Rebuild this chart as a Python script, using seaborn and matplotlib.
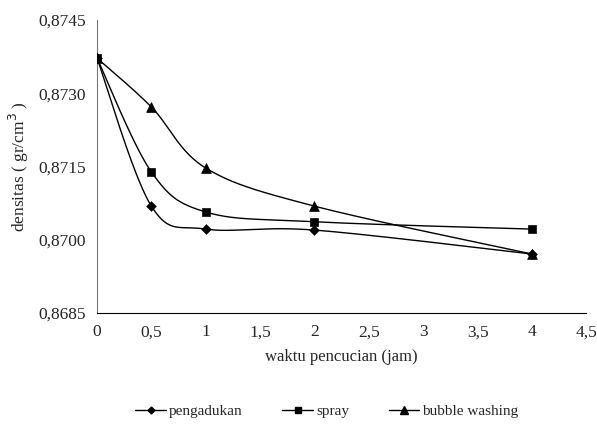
import numpy as np
import pandas as pd
import matplotlib
matplotlib.use("Agg")
import matplotlib.pyplot as plt
import seaborn as sns
from matplotlib.ticker import FuncFormatter

sns.set_style("white")
plt.rcParams['font.family'] = ['Liberation Serif', 'DejaVu Serif']

# data
waktu = [0, 0.5, 1, 2, 4]
pengadukan = [0.87372, 0.87069, 0.87022, 0.87020, 0.86971]
spray = [0.87372, 0.87139, 0.87057, 0.87037, 0.87022]
bubble = [0.87372, 0.87272, 0.87147, 0.87069, 0.86971]

series = ['pengadukan', 'spray', 'bubble washing']
markers = ['D', 's', '^']
msizes = [5, 6, 7]

df = pd.DataFrame({'waktu': waktu * 3,
                   'densitas': pengadukan + spray + bubble,
                   'metode': np.repeat(series, len(waktu))})

# excel-like smoothing (bezier through the points, tension 1/6), done in pixel-ish scale
def smooth(x, y, sx=108.7, sy=48900.0, n=40):
    p = np.column_stack([np.asarray(x) * sx, np.asarray(y) * sy])
    pts = []
    for i in range(len(p) - 1):
        p0 = p[i - 1] if i > 0 else p[i]
        p3 = p[i + 2] if i + 2 < len(p) else p[i + 1]
        c1 = p[i] + (p[i + 1] - p0) / 6
        c2 = p[i + 1] - (p3 - p[i]) / 6
        t = np.linspace(0, 1, n)[:, None]
        seg = ((1 - t) ** 3) * p[i] + 3 * ((1 - t) ** 2) * t * c1 + 3 * (1 - t) * t ** 2 * c2 + t ** 3 * p[i + 1]
        pts.append(seg)
    pts = np.vstack(pts)
    return pts[:, 0] / sx, pts[:, 1] / sy

fig = plt.figure(figsize=(5.97, 4.26), dpi=100)
ax = fig.add_axes([0.1625, 0.265, 0.8195, 0.688])

for name, m, ms in zip(series, markers, msizes):
    sub = df[df['metode'] == name]
    xs, ys = smooth(sub['waktu'].values, sub['densitas'].values)
    ax.plot(xs, ys, color='black', lw=1.0)
    sns.scatterplot(x='waktu', y='densitas', data=sub, marker=m, s=ms ** 2,
                    color='black', edgecolor='black', ax=ax, zorder=3, legend=False)
    ax.plot([], [], color='black', lw=1.0, marker=m, markersize=ms - 1.5, label=name)

ax.set_xlim(0, 4.5)
ax.set_ylim(0.8685, 0.8745)
ax.set_xticks(np.arange(0, 4.51, 0.5))
ax.set_yticks(np.arange(0.8685, 0.87451, 0.0015))
ax.xaxis.set_major_formatter(FuncFormatter(lambda v, p: ('%g' % round(v, 1)).replace('.', ',')))
ax.yaxis.set_major_formatter(FuncFormatter(lambda v, p: ('%.4f' % v).replace('.', ',')))
ax.tick_params(axis='both', direction='out', length=5, width=1, labelsize=12.5, color='black')
ax.tick_params(axis='x', pad=3)
ax.tick_params(axis='y', pad=3)

for s in ['top', 'right']:
    ax.spines[s].set_visible(False)
ax.spines['left'].set_color('#777777')
ax.spines['bottom'].set_color('black')

ax.set_xlabel('waktu pencucian (jam)', fontsize=12, labelpad=6)
ax.set_ylabel('densitas ( gr/cm$^3$ )', fontsize=12.5, labelpad=5)

ax.legend(loc='upper center', bbox_to_anchor=(0.47, -0.265), ncol=3, frameon=False,
          fontsize=11, handlelength=2.0, columnspacing=2.6, handletextpad=0.2)

fig.savefig('out.png', dpi=100)
